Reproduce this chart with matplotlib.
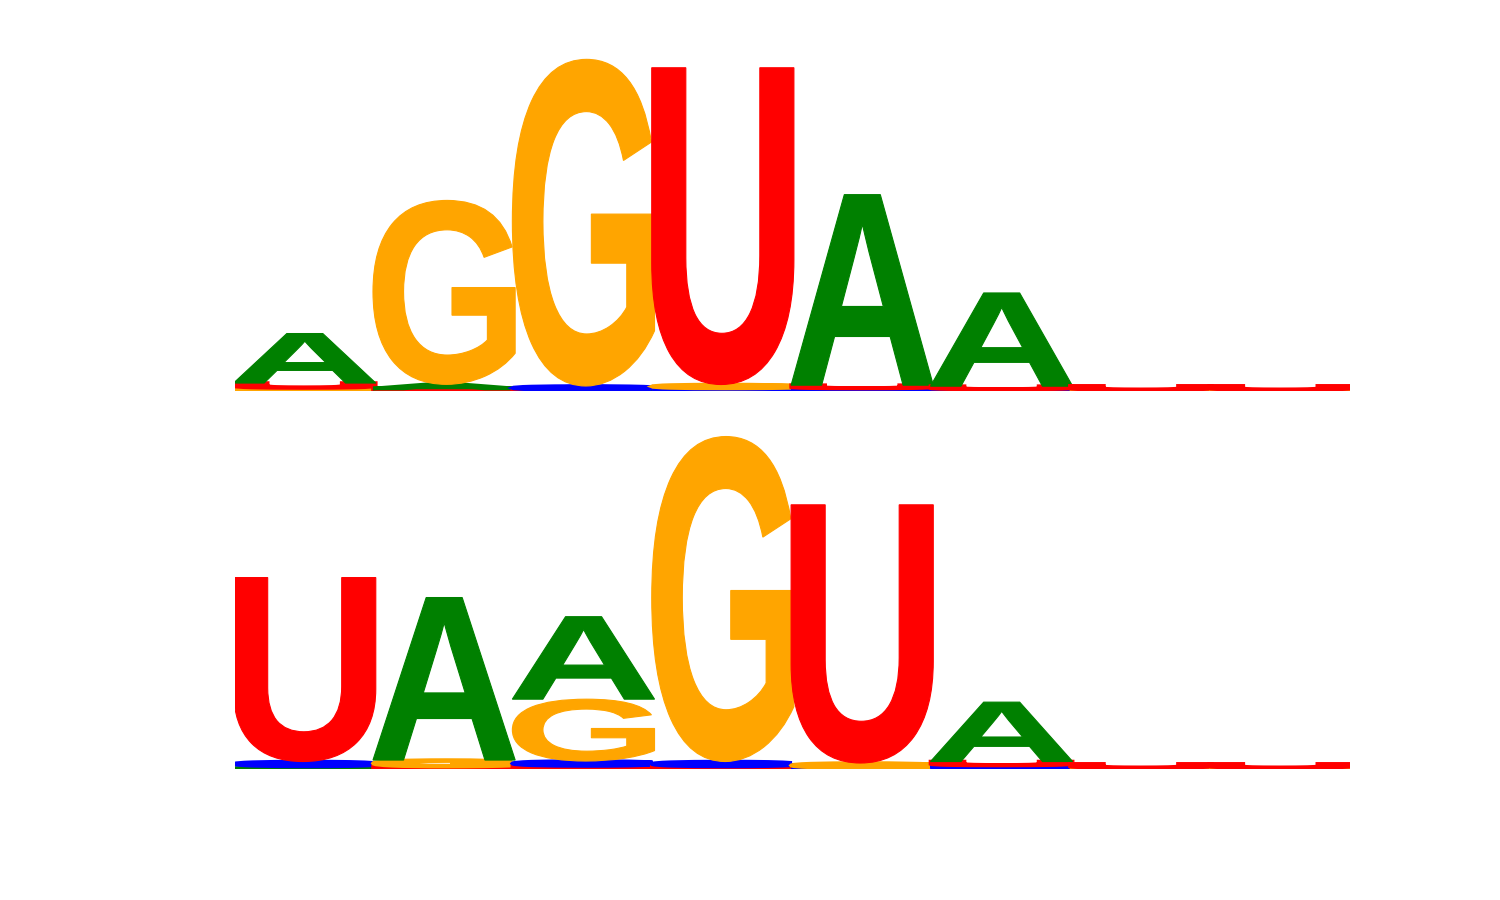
import numpy as np
import matplotlib
matplotlib.use("Agg")
import matplotlib.pyplot as plt
from matplotlib.textpath import TextPath
from matplotlib.patches import PathPatch
from matplotlib.font_manager import FontProperties
from matplotlib.transforms import Affine2D


# letter heights (bits) per position
letters = ['A', 'C', 'G', 'U']
colors = {'A': '#008000', 'C': '#0000ff', 'G': '#ffa500', 'U': '#ff0000'}

# top logo
top_A = [0.300, 0.025, 0.003, 0.003, 1.155, 0.565, 0.002, 0.002]
top_C = [0.006, 0.003, 0.024, 0.012, 0.012, 0.006, 0.002, 0.002]
top_G = [0.012, 1.115, 1.980, 0.024, 0.003, 0.003, 0.002, 0.002]
top_U = [0.030, 0.012, 0.003, 1.920, 0.020, 0.020, 0.025, 0.025]

# bottom logo
bot_A = [0.012, 0.985, 0.500, 0.003, 0.002, 0.360, 0.002, 0.002]
bot_C = [0.030, 0.004, 0.030, 0.030, 0.004, 0.018, 0.002, 0.002]
bot_G = [0.003, 0.040, 0.375, 1.970, 0.030, 0.003, 0.002, 0.002]
bot_U = [1.115, 0.010, 0.018, 0.012, 1.565, 0.024, 0.025, 0.025]

font = FontProperties(family='Liberation Sans', weight='bold')


def draw_letter(ax, letter, x, y, w, h):
    tp = TextPath((0, 0), letter, size=1, prop=font)
    ext = tp.get_extents()
    tr = (Affine2D()
          .translate(-ext.x0, -ext.y0)
          .scale(w / ext.width, h / ext.height)
          .translate(x - w / 2, y))
    path = tr.transform_path(tp)
    # flat letters get a heavier outline so they read as solid bars
    lw = 2.6 if h < 0.05 else 0.8
    ax.add_patch(PathPatch(path, facecolor=colors[letter], edgecolor=colors[letter],
                           lw=lw, joinstyle='miter'))


def draw_logo(ax, heights):
    n = len(heights['A'])
    for i in range(n):
        col = sorted(letters, key=lambda l: heights[l][i])
        y = 0.0
        for l in col:
            h = heights[l][i]
            draw_letter(ax, l, i + 1, y, 1.02, h)
            y += h
    ax.set_xlim(0.5, n + 0.5)
    ax.set_ylim(0, 2.05)
    ax.axis('off')


fig = plt.figure(figsize=(15, 9), dpi=100)
ax1 = fig.add_axes([0.15667, 0.5656, 0.74333, 0.3758])
ax2 = fig.add_axes([0.15667, 0.1456, 0.74333, 0.3758])

draw_logo(ax1, {'A': top_A, 'C': top_C, 'G': top_G, 'U': top_U})
draw_logo(ax2, {'A': bot_A, 'C': bot_C, 'G': bot_G, 'U': bot_U})

fig.savefig('out.png', dpi=100)
